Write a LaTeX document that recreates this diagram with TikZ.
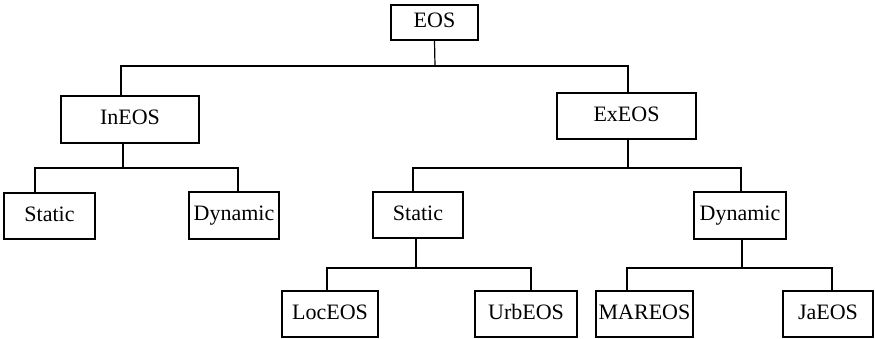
\documentclass[tikz,border=0pt]{standalone}
\usepackage{fontspec}
\setmainfont{Liberation Serif}
\begin{document}
\begin{tikzpicture}[x=1pt,y=-1pt,line width=1.2pt,
  box/.style={draw, inner sep=0pt, text height=15pt, text depth=5pt,
    font=\fontsize{22}{26}\selectfont, minimum height=46pt}]
\useasboundingbox (0,0) rectangle (875,338);
% nodes
\node[box, minimum width=87pt, minimum height=35pt] (EOS) at (434.5,22.5) {EOS};
\node[box, minimum width=138pt, minimum height=47pt] (InEOS) at (130,119.5) {InEOS};
\node[box, minimum width=139pt] (ExEOS) at (626.5,116) {ExEOS};
\node[box, minimum width=91pt] (StaticL) at (49.5,216) {Static};
\node[box, minimum width=90pt, minimum height=47pt] (DynL) at (234,215.5) {Dynamic};
\node[box, minimum width=90pt] (StaticM) at (418,215) {Static};
\node[box, minimum width=92pt, minimum height=47pt] (DynR) at (740,215.5) {Dynamic};
\node[box, minimum width=96pt] (LocEOS) at (330,314) {LocEOS};
\node[box, minimum width=102pt] (UrbEOS) at (526,314) {UrbEOS};
\node[box, minimum width=97pt] (MAREOS) at (644.5,314) {MAREOS};
\node[box, minimum width=90pt] (JaEOS) at (828,314) {JaEOS};
% junctions
\coordinate (j1) at (435,66);
\coordinate (j2) at (123,168);
\coordinate (j3) at (628,168);
\coordinate (j4) at (416,268);
\coordinate (j5) at (742,268);
% connectors
\draw (EOS.south) -- (j1);
\draw ([xshift=-9pt]InEOS.north) |- (j1) -| ([xshift=1.5pt]ExEOS.north);
\draw ([xshift=-7pt]InEOS.south) -- (j2);
\draw ([xshift=-14.5pt]StaticL.north) |- (j2) -| ([xshift=4pt]DynL.north);
\draw ([xshift=1.5pt]ExEOS.south) -- (j3);
\draw ([xshift=-5pt]StaticM.north) |- (j3) -| ([xshift=1pt]DynR.north);
\draw ([xshift=-2pt]StaticM.south) -- (j4);
\draw ([xshift=-3pt]LocEOS.north) |- (j4) -| ([xshift=5pt]UrbEOS.north);
\draw ([xshift=2pt]DynR.south) -- (j5);
\draw ([xshift=-17.5pt]MAREOS.north) |- (j5) -| ([xshift=4pt]JaEOS.north);
\end{tikzpicture}
\end{document}
